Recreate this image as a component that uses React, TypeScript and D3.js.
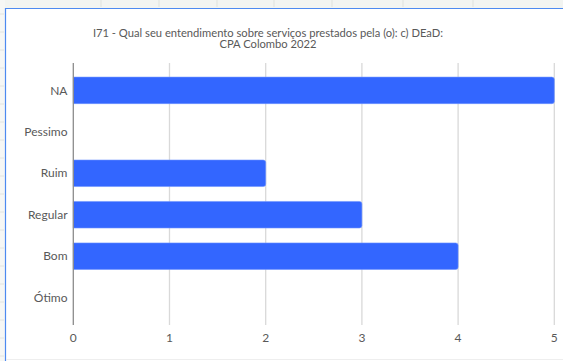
import React from "react";
import * as d3 from "d3";

const categories = ["NA", "Pessimo", "Ruim", "Regular", "Bom", "Ótimo"];
const values = [5, 0, 2, 3, 4, 0];
const xTicks = [0, 1, 2, 3, 4, 5];
const titleLines = [
  "I71 - Qual seu entendimento sobre serviços prestados pela (o): c) DEaD:",
  "CPA Colombo 2022",
];

const W = 563;
const H = 361;

export default function App() {
  const x = d3.scaleLinear().domain([0, 5]).range([73.3, 554.3]);
  const y = d3
    .scaleBand<string>()
    .domain(categories)
    .range([63, 325])
    .paddingInner(0.36)
    .paddingOuter(0.34);
  const font = "Lato, 'Open Sans', sans-serif";
  const sheetCols = [101, 159, 217, 274, 332, 403, 473];
  const sheetRows = d3.range(14, 361, 18);
  return (
    <svg
      width={W}
      height={H}
      style={{ position: "absolute", left: 0, top: 0, display: "block" }}
    >
      <rect x={0} y={0} width={W} height={H} fill="#ffffff" />
      <rect x={0} y={0} width={W} height={8} fill="#f2f4f1" />
      {sheetCols.map((c) => (
        <line key={c} x1={c} x2={c} y1={0} y2={7} stroke="#dfe2dd" strokeWidth={1} />
      ))}
      <rect x={0} y={0} width={5} height={H} fill="#f6f7f5" />
      {sheetRows.map((r) => (
        <line key={r} x1={0} x2={4} y1={r} y2={r} stroke="#e2e4e0" strokeWidth={1} />
      ))}
      <line x1={5.5} x2={5.5} y1={8} y2={H} stroke="#4d8af0" strokeWidth={1.2} />
      <line x1={5} x2={W} y1={8.5} y2={8.5} stroke="#4d8af0" strokeWidth={1.2} />
      <line x1={6} x2={W} y1={359.5} y2={359.5} stroke="#eeeeee" strokeWidth={1} />

      {titleLines.map((t, i) => (
        <text
          key={i}
          x={268}
          y={37 + i * 11}
          textAnchor="middle"
          fontFamily={font}
          fontSize={11.2}
          fill="#595959"
        >
          {t}
        </text>
      ))}

      {xTicks.slice(1).map((t) => (
        <line
          key={t}
          x1={x(t)}
          x2={x(t)}
          y1={63}
          y2={325}
          stroke="#d9d9d9"
          strokeWidth={1.3}
        />
      ))}

      {categories.map((c, i) =>
        values[i] > 0 ? (
          <path
            key={c}
            d={(() => {
              const x0 = x(0);
              const x1 = x(values[i]);
              const y0 = y(c)!;
              const h = y.bandwidth();
              const r = 2.5;
              return `M${x0},${y0}H${x1 - r}Q${x1},${y0} ${x1},${y0 + r}V${y0 + h - r}Q${x1},${y0 + h} ${x1 - r},${y0 + h}H${x0}Z`;
            })()}
            fill="#3366ff"
            stroke="#6f93ff"
            strokeWidth={0.6}
          />
        ) : null
      )}

      <line x1={73.3} x2={73.3} y1={63} y2={325} stroke="#8c8c8c" strokeWidth={1.3} />

      {categories.map((c) => (
        <text
          key={c}
          x={67.5}
          y={y(c)! + y.bandwidth() / 2}
          dy="0.35em"
          textAnchor="end"
          fontFamily={font}
          fontSize={12}
          fill="#595959"
        >
          {c}
        </text>
      ))}

      {xTicks.map((t) => (
        <text
          key={t}
          x={x(t)}
          y={338}
          dy="0.35em"
          textAnchor="middle"
          fontFamily={font}
          fontSize={12}
          fill="#595959"
        >
          {t}
        </text>
      ))}
    </svg>
  );
}
